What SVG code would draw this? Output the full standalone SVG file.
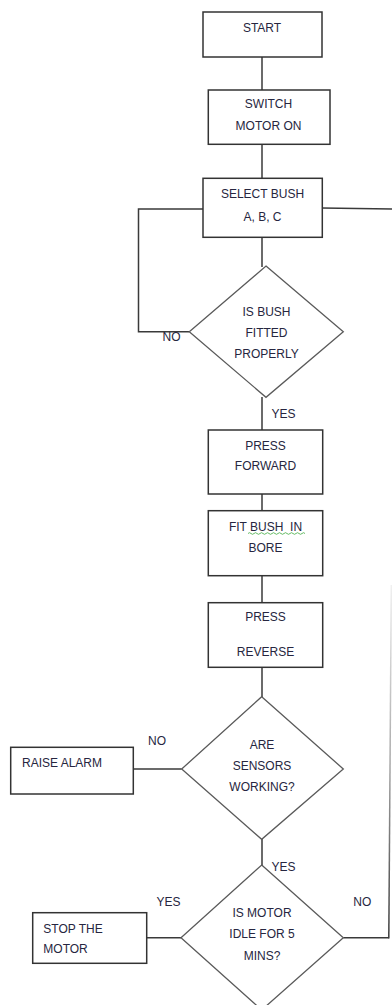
<svg xmlns="http://www.w3.org/2000/svg" width="392" height="1005" viewBox="0 0 392 1005">
<style>
.box{fill:#fff;stroke:#333;stroke-width:1.5}
.dia{fill:#fff;stroke:#5a5a5a;stroke-width:1.3}
.ln{fill:none;stroke:#3a3a3a;stroke-width:1.5}
text{font-family:"Liberation Sans",Arial,sans-serif;font-size:12px;fill:#262640}
.c{text-anchor:middle}
</style>
<defs>
<linearGradient id="fade" gradientUnits="userSpaceOnUse" x1="0" y1="585" x2="0" y2="937">
<stop offset="0" stop-color="#f0f0f0"/>
<stop offset="0.5" stop-color="#aaa"/>
<stop offset="1" stop-color="#3a3a3a"/>
</linearGradient>
</defs>
<rect width="392" height="1005" fill="#fff"/>
<g id="connectors">
<line class="ln" x1="262" y1="57" x2="262" y2="90"/>
<line class="ln" x1="262" y1="144" x2="262" y2="178"/>
<line class="ln" x1="262" y1="237" x2="262" y2="267"/>
<polyline class="ln" points="203,209 138.5,209 138.5,331.7 189.3,331.7"/>
<line class="ln" x1="322" y1="208" x2="392" y2="209"/>
<line class="ln" x1="262" y1="397" x2="262" y2="430"/>
<line class="ln" x1="262" y1="494" x2="262" y2="510.7"/>
<line class="ln" x1="262" y1="575.7" x2="262" y2="602.7"/>
<line class="ln" x1="262" y1="667.3" x2="262" y2="697"/>
<line class="ln" x1="133.3" y1="769" x2="181.7" y2="769"/>
<line class="ln" x1="262" y1="839" x2="262" y2="865"/>
<line class="ln" x1="146.7" y1="937.7" x2="181" y2="937.7"/>
<polyline fill="none" stroke="#3a3a3a" stroke-width="1.5" points="343.3,937.7 388.8,937.7"/>
<line stroke="url(#fade)" stroke-width="1.5" x1="391.3" y1="585" x2="388.8" y2="938.4"/>
</g>
<g id="start">
<rect class="box" x="203" y="12" width="119" height="45"/>
<text class="c" x="262" y="32">START</text>
</g>
<g id="switch">
<rect class="box" x="208.3" y="90" width="121.7" height="54.3"/>
<text class="c" x="268.5" y="108">SWITCH</text>
<text class="c" x="268.5" y="130">MOTOR ON</text>
</g>
<g id="select">
<rect class="box" x="203" y="178.3" width="119.3" height="59"/>
<text class="c" x="262.5" y="198">SELECT BUSH</text>
<text class="c" x="262.5" y="221">A, B, C</text>
</g>
<g id="fitted">
<polygon class="dia" points="266,266 343.3,331.7 266,397.3 189.3,331.7"/>
<text class="c" x="266.5" y="316.3">IS BUSH</text>
<text class="c" x="266.5" y="337.3">FITTED</text>
<text class="c" x="266.5" y="358.3">PROPERLY</text>
<text x="162.5" y="340.7">NO</text>
<text x="271.5" y="418.3">YES</text>
</g>
<g id="forward">
<rect class="box" x="208.3" y="430" width="114.4" height="64"/>
<text class="c" x="265.5" y="449.7">PRESS</text>
<text class="c" x="265.5" y="470">FORWARD</text>
</g>
<g id="fitbush">
<rect class="box" x="208.3" y="510.7" width="114.4" height="65"/>
<text class="c" x="265.5" y="531.3" xml:space="preserve" style="white-space:pre">FIT BUSH  IN</text>
<path d="M248,533.5 q1.5,-1.6 3,0 t3,0 t3,0 t3,0 t3,0 t3,0 t3,0 t3,0 t3,0 t3,0 t3,0 t3,0 t3,0 t3,0 t3,0 t3,0 t3,0 t3,0 t3,0" fill="none" stroke="#3faa3f" stroke-width="0.8"/>
<text class="c" x="265.5" y="551.7">BORE</text>
</g>
<g id="reverse">
<rect class="box" x="208.3" y="602.7" width="114.4" height="64.6"/>
<text class="c" x="265.5" y="620.7">PRESS</text>
<text class="c" x="265.5" y="655.7">REVERSE</text>
</g>
<g id="sensors">
<polygon class="dia" points="261.7,696.7 343.3,769 261.7,839.3 181.7,769"/>
<text class="c" x="262" y="749">ARE</text>
<text class="c" x="262" y="770">SENSORS</text>
<text class="c" x="262" y="790.7">WORKING?</text>
<text x="148" y="744.7">NO</text>
<text x="271.5" y="870.7">YES</text>
</g>
<g id="alarm">
<rect class="box" x="10.7" y="747.3" width="122.6" height="46.7"/>
<text x="22" y="766.7">RAISE ALARM</text>
</g>
<g id="idle">
<polygon class="dia" points="261.7,865 343.3,937.7 261.7,1010 181,937.7"/>
<text class="c" x="262" y="916.7">IS MOTOR</text>
<text class="c" x="262" y="938">IDLE FOR 5</text>
<text class="c" x="262" y="960">MINS?</text>
<text x="156.5" y="905.7">YES</text>
<text x="353.3" y="905.7">NO</text>
</g>
<g id="stop">
<rect class="box" x="32.7" y="912.7" width="114" height="50.6"/>
<text x="43.3" y="932.7">STOP THE</text>
<text x="43.3" y="953">MOTOR</text>
</g>
</svg>
